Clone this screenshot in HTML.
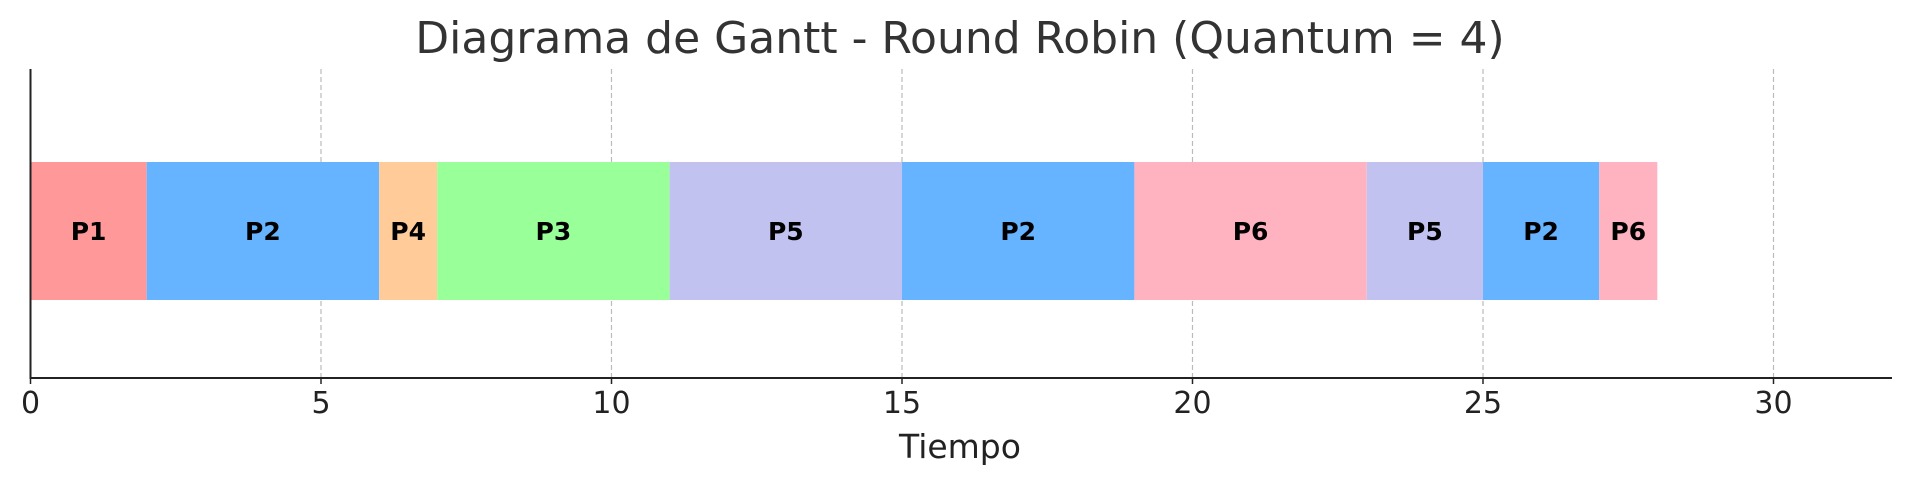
<!DOCTYPE html>
<html><head><meta charset="utf-8"><style>
html,body{margin:0;padding:0;background:#fff;}
svg{display:block;font-family:"DejaVu Sans","Liberation Sans",sans-serif;}
</style></head><body>
<svg id="chart" width="1910" height="485">
<text x="960" y="53" text-anchor="middle" font-size="44" fill="#333">Diagrama de Gantt - Round Robin (Quantum = 4)</text>
<g id="grid"></g><g id="bars"></g><g id="axes"></g>
<text x="960" y="458" text-anchor="middle" font-size="33" fill="#222">Tiempo</text>
</svg>
<script>
const labels=["P1","P2","P4","P3","P5","P2","P6","P5","P2","P6"];
const starts=[0,2,6,7,11,15,19,23,25,27];
const durations=[2,4,1,4,4,4,4,2,2,1];
const ticks=[0,5,10,15,20,25,30];
const colors={P1:"#ff9999",P2:"#66b3ff",P3:"#99ff99",P4:"#ffcc99",P5:"#c2c2f0",P6:"#ffb3c1"};
const NS="http://www.w3.org/2000/svg";
const X0=30.5,UNIT=58.1,PLOT_TOP=69,PLOT_BOTTOM=378,BAR_TOP=162,BAR_BOT=300;
const sx=v=>X0+v*UNIT;
function mk(t,a,p){const e=document.createElementNS(NS,t);for(const k in a)e.setAttribute(k,a[k]);p.appendChild(e);return e;}
const grid=document.getElementById('grid'),bars=document.getElementById('bars'),axes=document.getElementById('axes');
ticks.forEach(t=>{
 const g=mk('line',{x1:sx(t),x2:sx(t),y1:PLOT_TOP,y2:PLOT_BOTTOM,stroke:'#bbb','stroke-width':1.2,'stroke-dasharray':'5,3'},grid);
 
 
 const tk=mk('line',{x1:sx(t),x2:sx(t),y1:PLOT_BOTTOM,y2:PLOT_BOTTOM+6,stroke:'#222','stroke-width':1.5},axes);
 
 
 const tl=mk('text',{x:sx(t),y:413,'text-anchor':'middle','font-size':30,fill:'#222'},axes);
 tl.textContent=t;
 
 
});
labels.forEach((l,i)=>{
 const r=mk('rect',{x:sx(starts[i]),y:BAR_TOP,width:durations[i]*UNIT,height:BAR_BOT-BAR_TOP,fill:colors[l]},bars);
 
 
 const t=mk('text',{x:sx(starts[i]+durations[i]/2),y:(BAR_TOP+BAR_BOT)/2+9,'text-anchor':'middle','font-size':25,'font-weight':'bold',fill:'#000'},bars);
 t.textContent=l;
 
 
});
const ya=mk('line',{x1:X0,x2:X0,y1:PLOT_TOP,y2:PLOT_BOTTOM,stroke:'#222','stroke-width':2},axes);


const xa=mk('line',{x1:X0-1,x2:1892,y1:PLOT_BOTTOM,y2:PLOT_BOTTOM,stroke:'#222','stroke-width':2},axes);


</script>
</body></html>
